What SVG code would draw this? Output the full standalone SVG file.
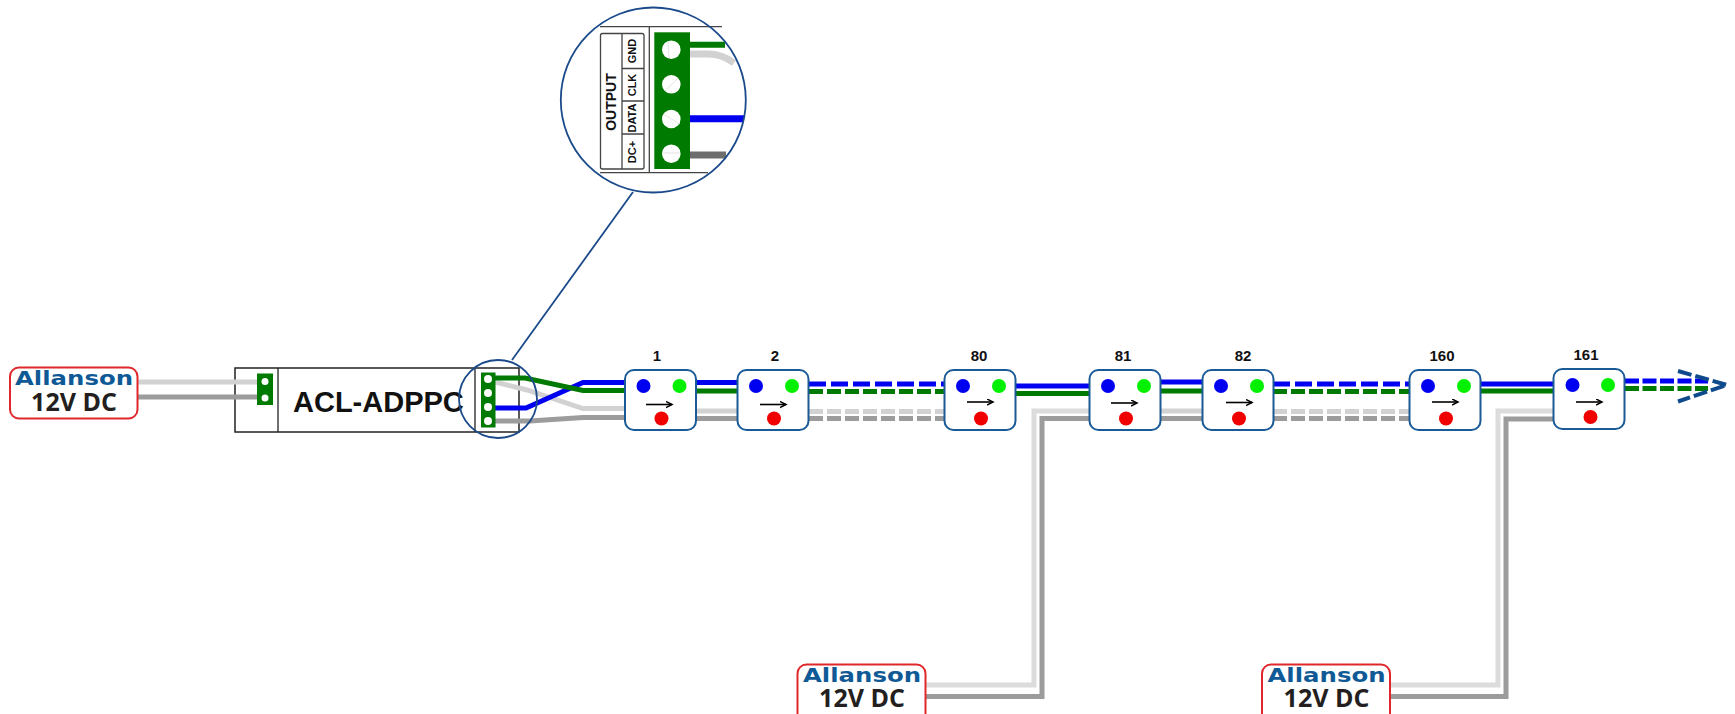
<svg xmlns="http://www.w3.org/2000/svg" width="1735" height="714" viewBox="0 0 1735 714">
<style>
text{font-family:"Liberation Sans",Arial,sans-serif}
.w{fill:none;stroke-linejoin:miter}
.b{stroke:#0000f0;stroke-width:5}
.g{stroke:#007a00;stroke-width:5}
.l{stroke:#d2d2d2;stroke-width:5}
.k{stroke:#9c9c9c;stroke-width:5}
.bd{stroke-dasharray:17 5}
.gd{stroke-dasharray:14 4}
.box{fill:#fff;stroke:#1a5a96;stroke-width:2}
.hb{fill:#0000f0}.hg{fill:#00f000}.hr{fill:#f00000}
.num{font-size:15px;font-weight:bold;text-anchor:middle;fill:#111}
.ar{fill:none;stroke:#000;stroke-width:1.6}
.ps{fill:#fff;stroke:#e0282c;stroke-width:2}
.an{font-family:"DejaVu Sans",sans-serif;font-size:20px;font-weight:bold;fill:#0f5a96}
.dc{font-family:"Open Sans","Noto Sans",sans-serif;font-size:25px;font-weight:700;fill:#231f20;text-anchor:middle}
.t{fill:#007a00}.h{fill:#fff}
.ln{fill:none;stroke:#444;stroke-width:1.3}
.lab{font-size:11px;font-weight:bold;text-anchor:middle;fill:#111}
.lens{fill:none;stroke:#1a4a8a;stroke-width:1.8}
.sl{fill:none;stroke:#dcdcdc;stroke-width:.8}
</style>
<defs>
<marker id="ah" markerWidth="8" markerHeight="8" refX="6.5" refY="3.5" orient="auto" markerUnits="userSpaceOnUse"><path d="M0.5 0.5L6.5 3.5L0.5 6.5" fill="none" stroke="#000" stroke-width="1.5"/></marker>
</defs>

<g id="controller">
<rect x="235" y="368" width="284" height="64" fill="#fff" stroke="#222" stroke-width="1.500"/>
<path d="M278 368V432M475 368V432" stroke="#222" stroke-width="1.300"/>
<text x="293" y="412" font-size="29" font-weight="bold" fill="#111">ACL-ADPPC</text>
</g>

<g id="connectors">
<path class="w l" d="M137 382H257"/>
<path class="w k" d="M137 397H257"/>

<path class="w k" d="M495 421H530L583 417.500H625"/>
<path class="w l" d="M495 382L527 390L583 408.500H625"/>
<path class="w b" d="M495 408H526L583 382.500H625"/>
<path class="w g" d="M495 378H525L583 390.500H625"/>

<path class="w l" d="M696 411H737"/><path class="w k" d="M696 418.500H737"/>
<path class="w b" d="M696 382.500H737"/><path class="w g" d="M696 391H737"/>

<path class="w l gd" d="M809 411.500H944"/><path class="w k gd" d="M809 418.500H944"/>
<path class="w b bd" d="M809 384H944"/><path class="w g gd" d="M809 391.500H944"/>

<path class="w b" d="M1016 386H1089"/><path class="w g" d="M1016 393.500H1089"/>
<path class="w l" style="stroke:#dcdcdc" d="M925 685H1034V411H1089"/>
<path class="w k" d="M925 696.500H1042V418.500H1089"/>

<path class="w l" d="M1160 411H1202"/><path class="w k" d="M1160 418.500H1202"/>
<path class="w b" d="M1160 382H1202"/><path class="w g" d="M1160 391H1202"/>

<path class="w l gd" d="M1273 411.500H1409"/><path class="w k gd" d="M1273 418.500H1409"/>
<path class="w b bd" d="M1273 384H1409"/><path class="w g gd" d="M1273 391.500H1409"/>

<path class="w b" d="M1481 384H1553"/><path class="w g" d="M1481 391H1553"/>
<path class="w l" style="stroke:#dcdcdc" d="M1390 685H1498V411H1553"/>
<path class="w k" d="M1390 696.500H1506V419H1553"/>

<path class="w b bd" style="stroke-dasharray:14 3.500" d="M1625 381H1708"/>
<path class="w g gd" style="stroke-dasharray:14 3.500" d="M1625 388.500H1708"/>
<path d="M1678 371L1727 385L1678 401.500" fill="none" stroke="#0f4a8c" stroke-width="4" stroke-dasharray="14 4"/>
<path d="M512 360L633 192" fill="none" stroke="#1a4a8a" stroke-width="1.800"/>
</g>

<g id="psu-1">
<rect class="ps" x="10" y="367.500" width="127.500" height="51" rx="9"/>
<text class="an" x="15" y="385" textLength="118" lengthAdjust="spacingAndGlyphs">Allanson</text>
<text class="dc" x="74" y="411">12V DC</text>
</g>

<g id="input-connector">
<rect class="t" x="257" y="373.500" width="16" height="31.500"/>
<circle class="h" cx="265" cy="381.500" r="3.500"/><circle class="h" cx="265" cy="398" r="3.500"/>
</g>

<g id="output-connector">
<rect class="t" x="481" y="372.500" width="14.500" height="55"/>
<circle class="h" cx="488" cy="379" r="4"/><circle class="h" cx="488" cy="393" r="4"/><circle class="h" cx="488" cy="407" r="4"/><circle class="h" cx="488" cy="421" r="4"/>
</g>
<g id="small-lens"><circle class="lens" cx="498" cy="399" r="39"/></g>

<g id="led-1"><rect class="box" x="625" y="370" width="71" height="60" rx="9"/><circle class="hb" cx="643.500" cy="386" r="7"/><circle class="hg" cx="679.500" cy="386" r="7"/><circle class="hr" cx="661.500" cy="418.500" r="7"/><path class="ar" marker-end="url(#ah)" d="M646 404.500H672"/><text class="num" x="657" y="361">1</text></g>
<g id="led-2"><rect class="box" x="737.500" y="370" width="71" height="60" rx="9"/><circle class="hb" cx="756" cy="386" r="7"/><circle class="hg" cx="792" cy="386" r="7"/><circle class="hr" cx="774" cy="418.500" r="7"/><path class="ar" marker-end="url(#ah)" d="M760 404.500H786"/><text class="num" x="775" y="361">2</text></g>
<g id="led-80"><rect class="box" x="944.500" y="370" width="71" height="60" rx="9"/><circle class="hb" cx="963" cy="386" r="7"/><circle class="hg" cx="999" cy="386" r="7"/><circle class="hr" cx="981" cy="418.500" r="7"/><path class="ar" marker-end="url(#ah)" d="M967 402H993"/><text class="num" x="979" y="361">80</text></g>
<g id="led-81"><rect class="box" x="1089.500" y="370" width="71" height="60" rx="9"/><circle class="hb" cx="1108" cy="386" r="7"/><circle class="hg" cx="1144" cy="386" r="7"/><circle class="hr" cx="1126" cy="418.500" r="7"/><path class="ar" marker-end="url(#ah)" d="M1111 403H1137"/><text class="num" x="1123" y="361">81</text></g>
<g id="led-82"><rect class="box" x="1202.500" y="370" width="71" height="60" rx="9"/><circle class="hb" cx="1221" cy="386" r="7"/><circle class="hg" cx="1257" cy="386" r="7"/><circle class="hr" cx="1239" cy="418.500" r="7"/><path class="ar" marker-end="url(#ah)" d="M1226 402.500H1252"/><text class="num" x="1243" y="361">82</text></g>
<g id="led-160"><rect class="box" x="1409.500" y="370" width="71" height="60" rx="9"/><circle class="hb" cx="1428" cy="386" r="7"/><circle class="hg" cx="1464" cy="386" r="7"/><circle class="hr" cx="1446" cy="418.500" r="7"/><path class="ar" marker-end="url(#ah)" d="M1432 402H1458"/><text class="num" x="1442" y="361">160</text></g>
<g id="led-161"><rect class="box" x="1553.500" y="369" width="71" height="60" rx="9"/><circle class="hb" cx="1572.500" cy="385" r="7"/><circle class="hg" cx="1608" cy="385" r="7"/><circle class="hr" cx="1590.500" cy="417" r="7"/><path class="ar" marker-end="url(#ah)" d="M1576 402H1602"/><text class="num" x="1586" y="360">161</text></g>

<g id="psu-2">
<rect class="ps" x="797.500" y="664.500" width="128" height="60" rx="9"/>
<text class="an" x="803" y="682" textLength="118" lengthAdjust="spacingAndGlyphs">Allanson</text>
<text class="dc" x="862" y="707">12V DC</text>
</g>
<g id="psu-3">
<rect class="ps" x="1262" y="664.500" width="128" height="60" rx="9"/>
<text class="an" x="1267.500" y="682" textLength="118" lengthAdjust="spacingAndGlyphs">Allanson</text>
<text class="dc" x="1326.500" y="707">12V DC</text>
</g>

<g id="detail-lens">
<circle cx="653.300" cy="100" r="92.500" fill="#fff" stroke="none"/>
<path class="ln" d="M600 26.700H722M600 172.700H708M649.300 26.700V172.700"/>
<rect x="600.500" y="33.500" width="43.500" height="135.500" rx="2" fill="#fff" stroke="#444" stroke-width="1.300"/>
<path class="ln" d="M622 33.500V169M622 68.500H644M622 101H644M622 134H644"/>
<text font-size="14" font-weight="bold" text-anchor="middle" fill="#111" transform="translate(616,102) rotate(-90)">OUTPUT</text>
<text class="lab" transform="translate(636,51) rotate(-90)">GND</text>
<text class="lab" transform="translate(636,85) rotate(-90)">CLK</text>
<text class="lab" transform="translate(636,118) rotate(-90)">DATA</text>
<text class="lab" transform="translate(636,152) rotate(-90)">DC+</text>
<path fill="none" stroke="#d2d2d2" stroke-width="7" d="M690 54H708Q722 54 734 63"/>
<path fill="none" stroke="#007a00" stroke-width="6" d="M690 44.700H725"/>
<path fill="none" stroke="#0000f0" stroke-width="7" d="M690 118.700H744"/>
<path fill="none" stroke="#6e6e6e" stroke-width="7" d="M690 155H726"/>
<rect class="t" x="654.300" y="32.300" width="35.700" height="136.700"/>
<circle class="h" cx="671.300" cy="49.700" r="9.300"/><circle class="h" cx="671.300" cy="84.300" r="9.300"/><circle class="h" cx="671.300" cy="119" r="9.300"/><circle class="h" cx="671.300" cy="153.700" r="9.300"/>
<path class="sl" d="M668 41L669 58M665 91L678 78M663 114L680 124M662 153H680"/>
<circle class="lens" cx="653.300" cy="100" r="92.500"/>
</g>
</svg>
